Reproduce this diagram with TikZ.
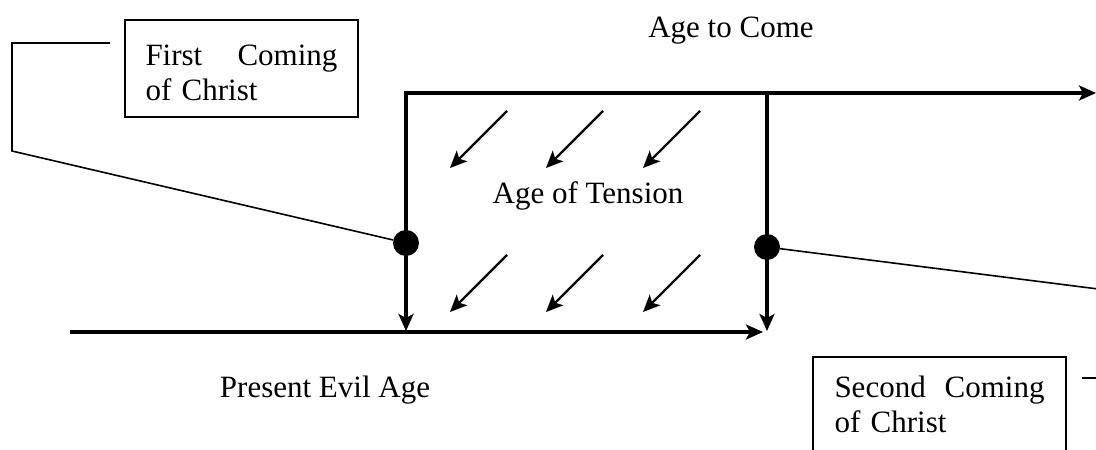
\documentclass[tikz,border=0pt]{standalone}
\usepackage{fontspec}
\setmainfont{Liberation Serif}
\usetikzlibrary{arrows.meta}
\usetikzlibrary{positioning}

\begin{document}
\begin{tikzpicture}[x=1pt,y=-1pt]
 \useasboundingbox (0,0) rectangle (1096,450);
 \clip (0,0) rectangle (1096,450);

\tikzstyle{age}=[line width=3.3pt,-{Stealth[length=17pt,width=15pt,inset=4pt]}]
\tikzstyle{pull}=[line width=2.2pt,-{Stealth[length=17pt,width=15pt,inset=4pt]}]
\tikzstyle{era}=[font=\fontsize{31}{35}\selectfont,anchor=base]
\tikzstyle{coming}=[draw,line width=1.6pt,text width=192pt,align=left,inner xsep=20.5pt,minimum height=97pt,font=\fontsize{31}{35}\selectfont]
\tikzstyle{event}=[circle,fill,inner sep=0pt,minimum size=26pt]
\tikzstyle{pointer}=[line width=1.6pt]

   %draw ages
    \coordinate (first_top) at (406,93);
    \coordinate (second_top) at (767,93);
    \coordinate (first_bottom) at (406,331);
    \coordinate (second_bottom) at (767,331);
    \coordinate (evil_start) at (70,332);
    \coordinate (evil_end) at (763,332);
    \coordinate (come_end) at (1096,93);

    \draw [age,{Stealth[length=17pt,width=15pt,inset=4pt]}-{Stealth[length=17pt,width=15pt,inset=4pt]}] (first_bottom) |- (come_end);
    \draw [age] (second_top) -- (second_bottom);
    \draw [age] (evil_start) -- (evil_end);

    \node (come) [era] at (731,37) {Age to Come};
    \node (tension) [era] at (588,203) {Age of Tension};
    \node (evil) [era] at (325,397) {Present Evil Age};

   %tension arrows
    \foreach \x in {507,603,700} {
      \foreach \y in {111,255} {
        \draw [pull] (\x,\y) -- ++(-57,57);
      }
    }

   %comings
    \node (first_dot) [event] at (406,243) {};
    \node (second_dot) [event] at (767,247) {};

    \node (first) [coming] at (241.5,68.5) {\rule{0pt}{29pt}First\hfill Coming\\of Christ};
    \node (second) [coming,text width=210pt,inner xsep=21.5pt,minimum height=96pt,anchor=north] at (939.5,356) {Second\hfill Coming\\of Christ};

    \coordinate (first_end) at (110,43);
    \coordinate (second_end) at (1082,378);

    \draw [pointer] (first_end) -- ++(-98,0) -- ++(0,108) -- (first_dot);
    \draw [pointer] (second_dot) -- (1110,290.5) |- (second_end);

\end{tikzpicture}
\end{document}
